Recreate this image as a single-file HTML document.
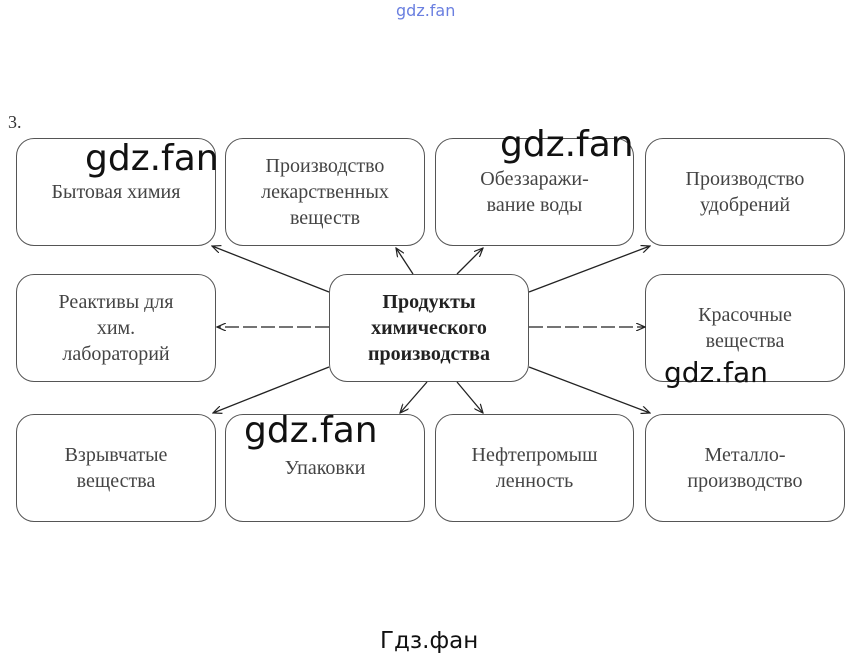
<!DOCTYPE html><html><head><meta charset="utf-8"><style>
body{margin:0;width:859px;height:662px;background:#fff;position:relative;overflow:hidden}
.b{position:absolute;border:1.5px solid #555;border-radius:18px;box-sizing:border-box;display:flex;align-items:center;justify-content:center;text-align:center;font-family:"Liberation Serif",serif;font-size:20px;line-height:26px;color:#444}
.w{position:absolute;font-family:"DejaVu Sans",sans-serif;font-size:36px;color:#111}
</style></head><body>
<div style="position:absolute;left:396px;top:1px;font-family:'DejaVu Sans',sans-serif;font-size:16px;color:#6a7fe0">gdz.fan</div>
<div style="position:absolute;left:8px;top:112px;font-family:'Liberation Serif',serif;font-size:18px;color:#333">3.</div>
<div class="b" style="left:16px;top:138px;width:200px;height:108px">Бытовая химия</div>
<div class="b" style="left:225px;top:138px;width:200px;height:108px">Производство<br>лекарственных<br>веществ</div>
<div class="b" style="left:435px;top:138px;width:199px;height:108px">Обеззаражи-<br>вание воды</div>
<div class="b" style="left:645px;top:138px;width:200px;height:108px">Производство<br>удобрений</div>
<div class="b" style="left:16px;top:274px;width:200px;height:108px">Реактивы для<br>хим.<br>лабораторий</div>
<div class="b" style="left:329px;top:274px;width:200px;height:108px;font-weight:bold;color:#222">Продукты<br>химического<br>производства</div>
<div class="b" style="left:645px;top:274px;width:200px;height:108px">Красочные<br>вещества</div>
<div class="b" style="left:16px;top:414px;width:200px;height:108px">Взрывчатые<br>вещества</div>
<div class="b" style="left:225px;top:414px;width:200px;height:108px">Упаковки</div>
<div class="b" style="left:435px;top:414px;width:199px;height:108px">Нефтепромыш<br>ленность</div>
<div class="b" style="left:645px;top:414px;width:200px;height:108px">Металло-<br>производство</div>
<svg width="859" height="662" style="position:absolute;left:0;top:0">
<defs><marker id="a" markerWidth="10" markerHeight="8" refX="9" refY="4" orient="auto" markerUnits="userSpaceOnUse"><path d="M0,0L9,4L0,8" fill="none" stroke="#222" stroke-width="1.2"/></marker></defs>
<g stroke="#222" stroke-width="1.3" marker-end="url(#a)">
<line x1="329" y1="292" x2="212" y2="246"/>
<line x1="413" y1="274" x2="396" y2="248"/>
<line x1="457" y1="274" x2="483" y2="248"/>
<line x1="529" y1="292" x2="650" y2="246"/>
<line x1="329" y1="327" x2="217" y2="327" stroke-dasharray="14 4"/>
<line x1="529" y1="327" x2="645" y2="327" stroke-dasharray="14 4"/>
<line x1="329" y1="367" x2="213" y2="413"/>
<line x1="427" y1="382" x2="400" y2="413"/>
<line x1="457" y1="382" x2="483" y2="413"/>
<line x1="529" y1="367" x2="650" y2="413"/>
</g></svg>
<div class="w" style="left:85px;top:138px">gdz.fan</div>
<div class="w" style="left:500px;top:124px">gdz.fan</div>
<div class="w" style="left:664px;top:356px;font-size:28px">gdz.fan</div>
<div class="w" style="left:244px;top:410px">gdz.fan</div>
<div style="position:absolute;left:380px;top:628px;font-family:'DejaVu Sans',sans-serif;font-size:23px;color:#111">Гдз.фан</div>
</body></html>
